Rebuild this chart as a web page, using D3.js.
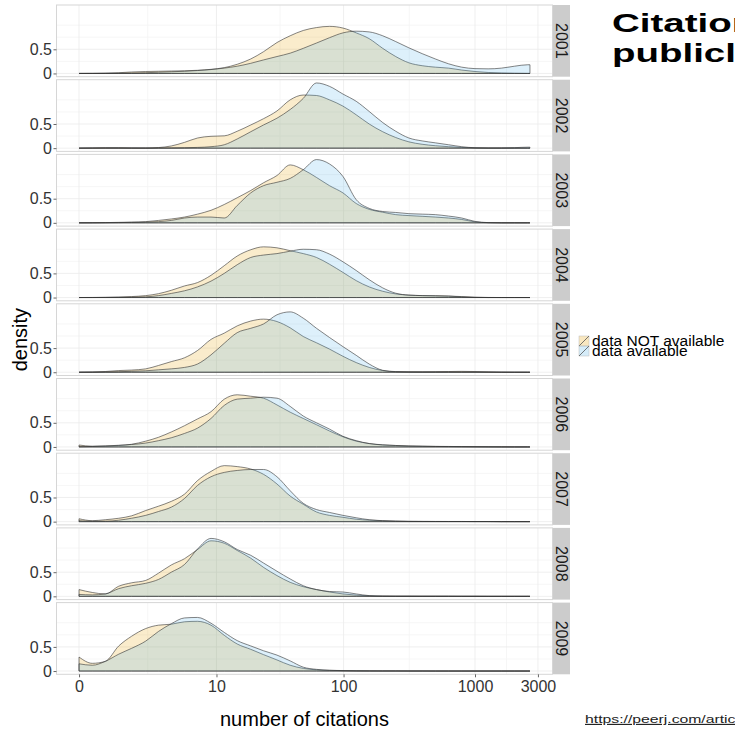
<!DOCTYPE html>
<html>
<head>
<meta charset="utf-8">
<script src="https://cdn.jsdelivr.net/npm/d3@7"></script>
<style>
  body { margin: 0; background: #fff; }
  text { font-family: "Liberation Sans", Arial, sans-serif; }
</style>
</head>
<body>
<script>
// facet rows and the two groups
var years = ['2001', '2002', '2003', '2004', '2005', '2006', '2007', '2008', '2009'];
var groups = ['data NOT available', 'data available'];
var groupFill = ['#E69F00', '#56B4E9'];

// number of citations at which the density was read (log scale, x+1)
var citations = [0, 0.26, 0.58, 1, 1.5, 2.2, 3, 4, 5.3, 6.9, 9, 11.6, 14.8, 19, 24, 30.6,
  38.8, 49, 62, 78, 99, 125, 157, 199, 250, 315, 397, 500, 630, 793, 999, 1258, 1584,
  1994, 2511, 2610];

// density, one row per year: data NOT available
var densNotAvail = [
  [0, 0.002, 0.006, 0.015, 0.03, 0.04, 0.045, 0.05, 0.055, 0.065, 0.085, 0.12, 0.19, 0.30, 0.45, 0.64, 0.78, 0.89, 0.95, 0.975, 0.94, 0.84, 0.72, 0.52, 0.35, 0.22, 0.16, 0.13, 0.11, 0.07, 0.04, 0.02, 0.01, 0.003, 0, 0],
  [0, 0.005, 0.01, 0.01, 0.005, 0.003, 0.012, 0.045, 0.12, 0.21, 0.245, 0.255, 0.35, 0.48, 0.61, 0.77, 1.0, 1.10, 1.09, 1.0, 0.87, 0.69, 0.50, 0.34, 0.22, 0.13, 0.08, 0.05, 0.03, 0.014, 0.005, 0.002, 0, 0, 0, 0],
  [0, 0.002, 0.005, 0.01, 0.015, 0.025, 0.05, 0.08, 0.12, 0.18, 0.26, 0.38, 0.52, 0.67, 0.83, 0.98, 1.20, 1.10, 0.94, 0.77, 0.62, 0.40, 0.28, 0.22, 0.17, 0.15, 0.135, 0.12, 0.10, 0.07, 0.02, 0.003, 0, 0, 0, 0],
  [0, 0.002, 0.005, 0.01, 0.02, 0.04, 0.08, 0.15, 0.24, 0.31, 0.46, 0.66, 0.86, 0.99, 1.05, 1.03, 0.97, 0.91, 0.83, 0.69, 0.52, 0.35, 0.22, 0.13, 0.075, 0.05, 0.04, 0.035, 0.03, 0.02, 0.007, 0.002, 0, 0, 0, 0],
  [0, 0.004, 0.015, 0.035, 0.045, 0.07, 0.14, 0.22, 0.30, 0.45, 0.68, 0.81, 0.96, 1.06, 1.10, 1.05, 0.92, 0.74, 0.61, 0.48, 0.33, 0.2, 0.1, 0.035, 0.014, 0.01, 0.01, 0.012, 0.015, 0.018, 0.015, 0.008, 0.003, 0, 0, 0],
  [0.04, 0.015, 0.02, 0.03, 0.055, 0.12, 0.20, 0.31, 0.44, 0.58, 0.73, 0.99, 1.08, 1.05, 1.01, 0.87, 0.72, 0.59, 0.46, 0.33, 0.21, 0.12, 0.07, 0.04, 0.03, 0.02, 0.015, 0.012, 0.01, 0.007, 0.005, 0.003, 0.002, 0, 0, 0],
  [0.06, 0.02, 0.04, 0.07, 0.12, 0.23, 0.32, 0.42, 0.57, 0.85, 1.04, 1.16, 1.14, 1.09, 0.98, 0.78, 0.53, 0.36, 0.2, 0.13, 0.09, 0.05, 0.03, 0.02, 0.012, 0.007, 0.005, 0.004, 0.003, 0.003, 0.002, 0.002, 0, 0, 0, 0],
  [0.14, 0.08, 0.05, 0.21, 0.28, 0.33, 0.48, 0.65, 0.78, 0.97, 1.15, 1.1, 0.95, 0.79, 0.6, 0.43, 0.29, 0.2, 0.14, 0.09, 0.05, 0.025, 0.01, 0.005, 0.003, 0.003, 0.002, 0.002, 0.002, 0.001, 0.001, 0, 0, 0, 0, 0],
  [0.29, 0.16, 0.2, 0.52, 0.72, 0.88, 0.95, 0.97, 1.02, 1.03, 0.95, 0.74, 0.56, 0.45, 0.34, 0.23, 0.12, 0.055, 0.025, 0.015, 0.007, 0.004, 0.003, 0.002, 0.002, 0.001, 0.001, 0, 0, 0, 0, 0, 0, 0, 0, 0]
];

// density, one row per year: data available
var densAvail = [
  [0, 0, 0.001, 0.003, 0.008, 0.015, 0.025, 0.035, 0.045, 0.06, 0.08, 0.11, 0.15, 0.21, 0.28, 0.35, 0.42, 0.52, 0.63, 0.74, 0.84, 0.875, 0.86, 0.78, 0.66, 0.53, 0.41, 0.30, 0.20, 0.13, 0.10, 0.095, 0.11, 0.15, 0.18, 0.18],
  [0, 0, 0, 0, 0, 0, 0.002, 0.004, 0.008, 0.015, 0.03, 0.07, 0.19, 0.34, 0.48, 0.62, 0.80, 1.03, 1.35, 1.28, 1.12, 0.97, 0.76, 0.53, 0.35, 0.21, 0.15, 0.11, 0.07, 0.03, 0.008, 0.003, 0.005, 0.01, 0.02, 0.02],
  [0, 0, 0.002, 0.005, 0.01, 0.015, 0.025, 0.05, 0.1, 0.12, 0.12, 0.1, 0.36, 0.62, 0.77, 0.84, 0.92, 1.10, 1.31, 1.22, 0.96, 0.48, 0.30, 0.235, 0.215, 0.19, 0.18, 0.17, 0.14, 0.10, 0.03, 0.005, 0, 0, 0, 0],
  [0, 0, 0.002, 0.005, 0.008, 0.015, 0.04, 0.085, 0.14, 0.22, 0.34, 0.5, 0.68, 0.83, 0.88, 0.91, 0.96, 1.0, 0.99, 0.9, 0.74, 0.56, 0.37, 0.2, 0.09, 0.05, 0.04, 0.037, 0.03, 0.014, 0.003, 0, 0, 0, 0, 0],
  [0, 0.002, 0.005, 0.01, 0.02, 0.03, 0.05, 0.07, 0.1, 0.17, 0.36, 0.6, 0.82, 0.91, 1.0, 1.19, 1.25, 1.12, 0.91, 0.72, 0.53, 0.35, 0.17, 0.04, 0.01, 0.005, 0.003, 0.003, 0.003, 0.003, 0.003, 0.002, 0, 0, 0, 0],
  [0.005, 0.01, 0.02, 0.035, 0.05, 0.08, 0.13, 0.19, 0.28, 0.39, 0.59, 0.86, 0.99, 1.01, 1.03, 1.01, 0.84, 0.64, 0.5, 0.37, 0.22, 0.13, 0.07, 0.045, 0.03, 0.02, 0.015, 0.01, 0.007, 0.005, 0.003, 0.002, 0, 0, 0, 0],
  [0.02, 0.01, 0.01, 0.03, 0.07, 0.13, 0.21, 0.30, 0.48, 0.75, 0.93, 1.02, 1.06, 1.08, 1.08, 0.93, 0.64, 0.38, 0.25, 0.19, 0.13, 0.08, 0.04, 0.02, 0.01, 0.005, 0.004, 0.003, 0.003, 0.003, 0.002, 0.002, 0, 0, 0, 0],
  [0.04, 0.03, 0.05, 0.16, 0.22, 0.27, 0.35, 0.5, 0.66, 0.98, 1.2, 1.13, 0.97, 0.85, 0.69, 0.52, 0.36, 0.22, 0.14, 0.1, 0.09, 0.05, 0.015, 0.005, 0.003, 0.003, 0.002, 0.002, 0.002, 0.001, 0.001, 0, 0, 0, 0, 0],
  [0.15, 0.12, 0.2, 0.35, 0.47, 0.62, 0.82, 0.98, 1.1, 1.11, 0.99, 0.8, 0.63, 0.52, 0.42, 0.33, 0.21, 0.08, 0.035, 0.015, 0.01, 0.005, 0.003, 0.002, 0.002, 0.001, 0.001, 0, 0, 0, 0, 0, 0, 0, 0, 0]
];

// axis breaks
var xTicks = [0, 10, 100, 1000, 3000];
var yTicks = [0, 0.5];
var yMinor = [0.25, 0.75, 1];

var width = 735;
var height = 738;

// panel geometry
var panelLeft = 56.5;
var panelWidth = 496;
var panelTop = 5;
var panelHeight = 71.7;
var panelStep = 74.7;
var stripWidth = 17;

var svg = d3.select('body')
  .append('svg')
  .attr('width', width)
  .attr('height', height)
  .style('display', 'block');

// x scale is log(x + 1), with 5% padding on both sides like ggplot
var pad = panelWidth * 0.05 / 1.1;
var x = d3.scaleSymlog()
  .constant(1)
  .domain([0, d3.max(citations)])
  .range([panelLeft + pad, panelLeft + panelWidth - pad]);

var yMax = d3.max(densNotAvail.concat(densAvail), function (row) { return d3.max(row); });

var xMinor = d3.pairs(xTicks).map(function (p) { return (x(p[0]) + x(p[1])) / 2; });

years.forEach(function (year, i) {
  var top = panelTop + i * panelStep;
  var y = d3.scaleLinear()
    .domain([-0.05 * yMax, 1.05 * yMax])
    .range([top + panelHeight, top]);

  var g = svg.append('g');

  g.append('rect')
    .attr('x', panelLeft)
    .attr('y', top)
    .attr('width', panelWidth)
    .attr('height', panelHeight)
    .attr('fill', '#fff');

  // minor grid
  g.selectAll('.xminor')
    .data(xMinor)
    .enter()
    .append('line')
      .attr('x1', function (d) { return d; })
      .attr('x2', function (d) { return d; })
      .attr('y1', top)
      .attr('y2', top + panelHeight)
      .attr('stroke', '#f4f4f4')
      .attr('stroke-width', 0.8);
  g.selectAll('.yminor')
    .data(yMinor)
    .enter()
    .append('line')
      .attr('x1', panelLeft)
      .attr('x2', panelLeft + panelWidth)
      .attr('y1', function (d) { return y(d); })
      .attr('y2', function (d) { return y(d); })
      .attr('stroke', '#f4f4f4')
      .attr('stroke-width', 0.8);

  // major grid
  g.selectAll('.xmajor')
    .data(xTicks)
    .enter()
    .append('line')
      .attr('x1', function (d) { return x(d); })
      .attr('x2', function (d) { return x(d); })
      .attr('y1', top)
      .attr('y2', top + panelHeight)
      .attr('stroke', '#ebebeb')
      .attr('stroke-width', 0.8);
  g.selectAll('.ymajor')
    .data(yTicks)
    .enter()
    .append('line')
      .attr('x1', panelLeft)
      .attr('x2', panelLeft + panelWidth)
      .attr('y1', function (d) { return y(d); })
      .attr('y2', function (d) { return y(d); })
      .attr('stroke', '#ebebeb')
      .attr('stroke-width', 0.8);

  var area = d3.area()
    .x(function (d) { return x(d.c); })
    .y0(y(0))
    .y1(function (d) { return y(d.v); })
    .curve(d3.curveMonotoneX);

  [densNotAvail[i], densAvail[i]].forEach(function (row, k) {
    var pts = citations.map(function (c, j) { return {c: c, v: row[j]}; });
    g.append('path')
      .datum(pts)
      .attr('d', area)
      .attr('fill', groupFill[k])
      .attr('fill-opacity', 0.2)
      .attr('stroke', '#333')
      .attr('stroke-opacity', 0.75)
      .attr('stroke-width', 0.8);
  });

  // panel border
  g.append('rect')
    .attr('x', panelLeft)
    .attr('y', top)
    .attr('width', panelWidth)
    .attr('height', panelHeight)
    .attr('fill', 'none')
    .attr('stroke', '#d6d6d6')
    .attr('stroke-width', 1);

  // strip on the right
  g.append('rect')
    .attr('x', panelLeft + panelWidth + 0.5)
    .attr('y', top)
    .attr('width', stripWidth)
    .attr('height', panelHeight)
    .attr('fill', '#cccccc');
  g.append('text')
    .attr('transform', 'translate(' + (panelLeft + panelWidth + 0.5 + stripWidth / 2) + ',' + (top + panelHeight / 2) + ')rotate(90)')
    .attr('text-anchor', 'middle')
    .attr('dominant-baseline', 'central')
    .attr('font-size', 16)
    .attr('fill', '#1a1a1a')
    .text(year);

  // y axis
  var yAxis = d3.axisLeft(y)
    .tickValues(yTicks)
    .tickFormat(d3.format(''))
    .tickSize(3)
    .tickPadding(1.5);
  var ya = g.append('g')
    .attr('transform', 'translate(' + panelLeft + ',0)')
    .call(yAxis);
  ya.select('.domain').remove();
  ya.selectAll('line').attr('stroke', '#666');
  ya.selectAll('text')
    .attr('font-family', '"Liberation Sans", Arial, sans-serif')
    .attr('font-size', 16)
    .attr('fill', '#333');
});

// x axis under the last panel
var bottom = panelTop + (years.length - 1) * panelStep + panelHeight;
var xAxis = d3.axisBottom(x)
  .tickValues(xTicks)
  .tickFormat(d3.format('d'))
  .tickSize(3)
  .tickPadding(3);
var xa = svg.append('g')
  .attr('transform', 'translate(0,' + bottom + ')')
  .call(xAxis);
xa.select('.domain').remove();
xa.selectAll('line').attr('stroke', '#666');
xa.selectAll('text')
  .attr('font-family', '"Liberation Sans", Arial, sans-serif')
  .attr('font-size', 16)
  .attr('fill', '#333');

// axis titles
svg.append('text')
  .attr('x', panelLeft + panelWidth / 2)
  .attr('y', 726)
  .attr('text-anchor', 'middle')
  .attr('font-size', 20)
  .attr('fill', '#000')
  .text('number of citations');

svg.append('text')
  .attr('transform', 'translate(27,' + ((panelTop + bottom) / 2) + ')rotate(-90)')
  .attr('text-anchor', 'middle')
  .attr('font-size', 20)
  .attr('fill', '#000')
  .text('density');

// legend
var legend = svg.append('g').attr('transform', 'translate(579,336)');
groups.forEach(function (name, k) {
  var ky = k * 10;
  legend.append('rect')
    .attr('x', 0)
    .attr('y', ky)
    .attr('width', 10)
    .attr('height', 10)
    .attr('fill', groupFill[k])
    .attr('fill-opacity', 0.25)
    .attr('stroke', '#bbb')
    .attr('stroke-width', 0.5);
  legend.append('line')
    .attr('x1', 0)
    .attr('y1', ky + 10)
    .attr('x2', 10)
    .attr('y2', ky)
    .attr('stroke', '#555')
    .attr('stroke-width', 0.8);
  legend.append('text')
    .attr('x', 13)
    .attr('y', ky + 10)
    .attr('font-size', 15.5)
    .attr('fill', '#000')
    .text(name);
});

// title, runs off the right edge
var title = svg.append('g').attr('font-weight', 'bold').attr('font-size', 26).attr('fill', '#000');
title.append('text')
  .attr('transform', 'translate(612,32)scale(1.48,1)')
  .text('Citation rates of papers with');
title.append('text')
  .attr('transform', 'translate(612,62)scale(1.48,1)')
  .text('publicly available data');

// source link
svg.append('text')
  .attr('transform', 'translate(585,723)scale(1.37,1)')
  .attr('font-size', 11.5)
  .attr('fill', '#222')
  .attr('text-decoration', 'underline')
  .text('https://peerj.com/articles/175/');
</script>
</body>
</html>
